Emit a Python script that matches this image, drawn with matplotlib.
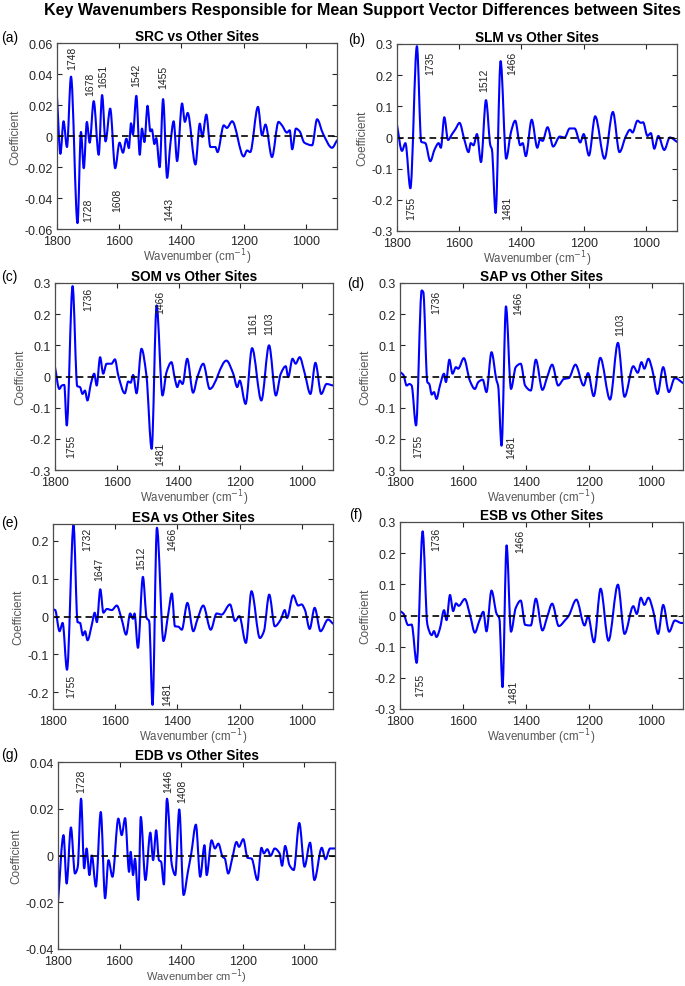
import numpy as np
import matplotlib.pyplot as plt
from matplotlib.path import Path
from matplotlib.patches import PathPatch

plt.rcParams['font.family'] = ['Liberation Sans', 'DejaVu Sans']

# ---- data (wavenumber, SVM coefficient) ----
wn_src = [1800, 1789, 1779, 1768, 1755, 1734, 1723, 1714, 1704, 1695, 1682, 1666, 1655, 1644, 1629,
          1613, 1599, 1588, 1577, 1569, 1562, 1556, 1545, 1534, 1527, 1519, 1509, 1500, 1495, 1487,
          1481, 1470, 1459, 1446, 1436, 1425, 1414, 1398, 1389, 1380, 1355, 1341, 1333, 1320, 1307,
          1291, 1284, 1264, 1254, 1237, 1200, 1189, 1179, 1154, 1141, 1130, 1109, 1088, 1077, 1061,
          1052, 1044, 1032, 1020, 1005, 980, 964, 945, 916, 900]
coef_src = [0.0253, -0.0115, 0.0095, -0.0071, 0.0383, -0.0562, 0.0026, -0.0208, 0.0091, -0.0043,
            0.0225, -0.0121, 0.0264, -0.0035, 0.0177, -0.0208, -0.0043, -0.0108, -0.0017, -0.0078,
            0.0082, 0.0009, 0.0259, -0.0121, 0.0048, -0.0039, 0.0195, 0.003, 0.0043, -0.0052,
            -0.0013, -0.0201, 0.0238, -0.027, -0.006, 0.0095, -0.0162, 0.021, 0.0091, 0.0149,
            -0.0184, 0.008, -0.0006, 0.0138, -0.0071, -0.0071, -0.0104, 0.0069, 0.0052, 0.0095,
            -0.0132, -0.0093, -0.0104, 0.0188, 0.0004, 0.0074, -0.0136, 0.0091, 0.0069, 0.0022,
            0.0037, -0.0086, 0.0048, 0.003, -0.0043, -0.006, 0.0108, 0.0015, -0.0076, -0.0028]

wn_slm = [1800, 1784, 1773, 1757, 1736, 1722, 1709, 1693, 1679, 1666, 1659, 1648, 1636, 1623, 1612,
          1599, 1584, 1570, 1563, 1554, 1543, 1530, 1514, 1500, 1495, 1483, 1467, 1449, 1434, 1420,
          1404, 1396, 1386, 1367, 1349, 1340, 1332, 1316, 1298, 1277, 1261, 1245, 1229, 1211, 1200,
          1183, 1163, 1133, 1106, 1085, 1064, 1051, 1043, 1027, 1016, 1009, 995, 984, 973, 960,
          941, 923, 900]
coef_slm = [0.040, -0.043, -0.018, -0.163, 0.293, -0.014, -0.018, -0.076, -0.038, -0.018,
            -0.033, 0.065, -0.008, 0.011, 0.027, 0.047, -0.005, -0.047, -0.018, -0.025,
            0.011, -0.079, 0.120, -0.025, -0.038, -0.242, 0.245, -0.068, 0.016, 0.054,
            -0.025, -0.018, -0.060, 0.057, -0.033, -0.005, -0.011, 0.033, -0.029, 0.003,
            0.0, 0.029, 0.029, -0.016, 0.011, -0.058, 0.068, -0.068, 0.082, -0.047,
            0.005, 0.025, 0.016, 0.054, 0.047, 0.049, 0.005, 0.014, -0.036, 0.005,
            -0.040, 0.0, -0.014]

wn_som = [1800, 1786, 1778, 1770, 1762, 1743, 1728, 1719, 1711, 1703, 1695, 1684, 1673, 1665, 1654,
          1644, 1633, 1617, 1606, 1595, 1574, 1563, 1555, 1547, 1536, 1520, 1504, 1487, 1471, 1452,
          1439, 1423, 1412, 1404, 1396, 1387, 1372, 1353, 1339, 1320, 1299, 1245, 1223, 1210, 1202,
          1183, 1162, 1132, 1107, 1085, 1069, 1053, 1045, 1031, 1021, 1008, 992, 973, 957, 938,
          921, 900]
coef_som = [0.030, -0.040, -0.029, -0.027, -0.157, 0.290, -0.031, -0.034, -0.056, -0.045,
            -0.077, -0.024, 0.009, -0.029, 0.062, 0.009, 0.041, 0.041, 0.055, 0.003,
            -0.054, -0.016, -0.020, 0.005, -0.054, 0.089, 0.003, -0.232, 0.228, -0.061,
            0.014, 0.046, -0.007, -0.034, -0.013, -0.024, 0.057, -0.052, -0.002, 0.041,
            -0.040, 0.051, 0.009, -0.034, -0.013, -0.088, 0.091, -0.077, 0.100, -0.061,
            0.009, 0.033, -0.002, 0.057, 0.041, 0.062, 0.012, -0.056, 0.044, -0.056,
            -0.024, -0.029]

wn_sap = [1800, 1789, 1779, 1770, 1763, 1749, 1731, 1726, 1713, 1707, 1699, 1692, 1684, 1673, 1660,
          1654, 1643, 1633, 1622, 1615, 1597, 1578, 1562, 1551, 1537, 1525, 1509, 1493, 1488, 1477,
          1463, 1447, 1432, 1416, 1402, 1384, 1368, 1347, 1332, 1316, 1297, 1279, 1263, 1242, 1216,
          1202, 1184, 1163, 1132, 1107, 1086, 1058, 1044, 1032, 1023, 1010, 998, 981, 963, 945,
          926, 900]
coef_sap = [0.014, 0.005, -0.029, -0.024, -0.029, -0.157, 0.276, 0.271, -0.018, -0.024,
            -0.058, -0.050, -0.072, -0.029, 0.009, -0.018, 0.054, 0.009, 0.030, 0.025,
            0.059, -0.013, -0.040, -0.018, -0.010, -0.050, 0.078, -0.013, -0.029, -0.222,
            0.225, -0.040, 0.030, 0.041, -0.029, -0.045, 0.054, -0.043, -0.002, 0.038,
            -0.029, -0.008, -0.005, 0.038, -0.029, 0.011, -0.063, 0.060, -0.074, 0.108,
            -0.065, 0.033, 0.012, 0.046, 0.025, 0.057, 0.023, -0.056, 0.030, -0.050,
            -0.005, -0.021]

wn_esa = [1800, 1793, 1779, 1769, 1755, 1734, 1721, 1713, 1704, 1697, 1689, 1675, 1666, 1659, 1648,
          1638, 1627, 1611, 1595, 1579, 1565, 1552, 1543, 1538, 1527, 1511, 1499, 1491, 1480, 1466,
          1445, 1429, 1418, 1408, 1397, 1386, 1368, 1349, 1336, 1317, 1293, 1274, 1258, 1231, 1215,
          1201, 1180, 1162, 1135, 1122, 1105, 1087, 1068, 1055, 1048, 1028, 1012, 1001, 990, 975,
          959, 940, 916, 900]
coef_esa = [0.019, 0.017, -0.039, -0.017, -0.141, 0.242, -0.015, -0.017, -0.050, -0.039,
            -0.063, -0.021, 0.010, -0.015, 0.072, 0.010, 0.020, 0.017, 0.029, -0.008,
            -0.048, 0.008, -0.006, 0.008, -0.083, 0.105, -0.004, -0.012, -0.234, 0.235,
            -0.065, 0.010, 0.061, -0.026, -0.027, -0.035, 0.036, -0.039, -0.008, 0.029,
            -0.035, 0.008, 0.005, 0.032, -0.012, 0.001, -0.070, 0.067, -0.057, -0.039,
            0.058, -0.026, -0.008, 0.017, -0.004, 0.056, 0.029, 0.032, 0.017, -0.033,
            0.023, -0.039, -0.008, -0.019]

wn_esb = [1800, 1789, 1774, 1763, 1747, 1728, 1713, 1699, 1692, 1684, 1673, 1660, 1652, 1641, 1631,
          1622, 1613, 1594, 1576, 1562, 1548, 1535, 1525, 1509, 1493, 1484, 1474, 1461, 1447, 1432,
          1416, 1402, 1384, 1368, 1347, 1332, 1316, 1295, 1274, 1263, 1239, 1213, 1202, 1183, 1162,
          1137, 1107, 1086, 1058, 1047, 1034, 1023, 1010, 995, 979, 963, 944, 926, 905, 900]
coef_esb = [0.014, 0.006, -0.031, -0.029, -0.152, 0.270, -0.029, -0.063, -0.050, -0.069,
            -0.042, 0.017, -0.015, 0.066, 0.014, 0.039, 0.031, 0.053, -0.004, -0.055,
            -0.018, 0.012, -0.051, 0.080, 0.006, -0.010, -0.230, 0.225, -0.052, 0.024,
            0.048, -0.030, -0.032, 0.054, -0.048, -0.005, 0.038, -0.034, -0.014, 0.0,
            0.051, -0.032, -0.002, -0.086, 0.086, -0.081, 0.099, -0.059, 0.030, 0.005,
            0.057, 0.034, 0.057, 0.016, -0.059, 0.034, -0.052, -0.016, -0.024, -0.024]

wn_edb = [1800, 1782, 1772, 1758, 1745, 1736, 1725, 1715, 1707, 1698, 1690, 1677, 1661, 1647, 1636,
          1623, 1604, 1593, 1582, 1569, 1564, 1556, 1550, 1539, 1531, 1516, 1500, 1491, 1481, 1472,
          1465, 1456, 1446, 1430, 1419, 1406, 1392, 1378, 1367, 1352, 1338, 1324, 1317, 1301, 1290,
          1279, 1265, 1258, 1247, 1234, 1220, 1212, 1198, 1184, 1171, 1152, 1139, 1131, 1120, 1109,
          1096, 1080, 1072, 1062, 1048, 1034, 1016, 999, 981, 967, 943, 931, 916, 900]
coef_edb = [-0.020, 0.0087, -0.012, 0.012, -0.0077, -0.005, 0.0243, -0.0055, 0.003, -0.0084,
            0.0, -0.0133, 0.0186, -0.0183, -0.002, -0.0091, 0.0158, 0.0087, 0.016, -0.007,
            0.0016, -0.0084, -0.0013, -0.019, 0.0165, -0.0105, 0.0098, -0.002, 0.0108, -0.002,
            -0.0027, -0.0124, 0.0243, -0.0041, -0.0084, 0.0197, -0.0169, -0.007, 0.0009, 0.0132,
            -0.0091, 0.0044, -0.0084, 0.0065, 0.003, 0.0051, -0.0006, -0.0013, -0.0077, -0.0013,
            0.0058, 0.0037, 0.007, -0.001, -0.0013, -0.0105, 0.0033, 0.0009, 0.0027, -0.0001,
            0.003, 0.0009, -0.0044, 0.0041, -0.0041, -0.0062, 0.0139, -0.0048, 0.0055, -0.0105,
            0.0033, -0.0016, 0.003, 0.003]

# peak labels: (text, wavenumber, coefficient) for where the label sits
labels_src = [('1748', 1752, 0.0506), ('1678', 1693, 0.034), ('1651', 1650, 0.039),
              ('1542', 1545, 0.040), ('1455', 1459, 0.0385), ('1728', 1701, -0.0475),
              ('1608', 1605, -0.0406), ('1443', 1438, -0.0465)]
labels_slm = [('1735', 1693, 0.242), ('1512', 1519, 0.186), ('1466', 1430, 0.242),
              ('1755', 1754, -0.225), ('1481', 1446, -0.225)]
labels_som = [('1736', 1692, 0.250), ('1466', 1460, 0.241), ('1161', 1159, 0.172),
              ('1103', 1105, 0.172), ('1755', 1746, -0.220), ('1481', 1460, -0.245)]
labels_sap = [('1736', 1684, 0.241), ('1466', 1424, 0.237), ('1103', 1101, 0.170),
              ('1755', 1742, -0.220), ('1481', 1445, -0.224)]
labels_esa = [('1732', 1689, 0.206), ('1647', 1650, 0.127), ('1512', 1515, 0.158),
              ('1466', 1418, 0.206), ('1755', 1741, -0.183), ('1481', 1434, -0.204)]
labels_esb = [('1736', 1684, 0.246), ('1466', 1419, 0.240), ('1755', 1736, -0.222),
              ('1481', 1440, -0.244)]
labels_edb = [('1728', 1724, 0.032), ('1446', 1442, 0.032), ('1408', 1396, 0.028)]

W, H = 685, 987
fig = plt.figure(figsize=(W / 100, H / 100), dpi=100)


def px_rect(l, t, r, b):
    return [l / W, 1 - b / H, (r - l) / W, (b - t) / H]


def smooth_path(x, y):
    # monotone cubic (pchip-style) bezier through the read points, no overshoot
    x = np.asarray(x, float)
    y = np.asarray(y, float)
    d = np.diff(y) / np.diff(x)
    m = np.zeros(len(x))
    for i in range(1, len(x) - 1):
        if d[i - 1] * d[i] > 0:
            m[i] = 2.0 / (1.0 / d[i - 1] + 1.0 / d[i])
    m[0], m[-1] = d[0], d[-1]
    verts = [(x[0], y[0])]
    codes = [Path.MOVETO]
    for i in range(len(x) - 1):
        h = x[i + 1] - x[i]
        verts += [(x[i] + h / 3, y[i] + m[i] * h / 3),
                  (x[i + 1] - h / 3, y[i + 1] - m[i + 1] * h / 3),
                  (x[i + 1], y[i + 1])]
        codes += [Path.CURVE4] * 3
    return Path(verts, codes)


def panel(rect, wn, coef, title, letter, letter_xy, ylim, yticks, ytick_labels, labels,
          xlabel='Wavenumber (cm$^{-1}$)'):
    ax = fig.add_axes(rect)
    ax.add_patch(PathPatch(smooth_path(wn, coef), fill=False, edgecolor='#0000ff', lw=1.5,
                           joinstyle='round', capstyle='round'))
    ax.axhline(0, color='black', ls=(0, (4, 2.5)), lw=1.2)
    ax.set_xlim(1800, 900)
    ax.set_ylim(*ylim)
    ax.set_xticks([1800, 1600, 1400, 1200, 1000])
    ax.set_yticks(yticks)
    ax.set_yticklabels(ytick_labels)
    ax.tick_params(direction='in', top=True, right=True, length=3.5, width=0.8,
                   labelsize=9, colors='#262626', pad=3)
    ax.tick_params(axis='x', pad=4)
    for s in ax.spines.values():
        s.set_color('#4d4d4d')
        s.set_linewidth(0.9)
    ax.set_title(title, fontsize=9.8, fontweight='bold', pad=2)
    ax.set_xlabel(xlabel, fontsize=8.3, color='#555555', labelpad=0)
    ax.set_ylabel('Coefficient', fontsize=8.5, color='#555555', labelpad=2)
    for txt, x, y in labels:
        ax.text(x, y, txt, rotation=90, ha='center', va='center', fontsize=7.5, color='#222222')
    fig.text(letter_xy[0] / W, 1 - letter_xy[1] / H, letter, fontsize=10, ha='left', va='center')
    return ax


t3 = [-0.3, -0.2, -0.1, 0, 0.1, 0.2, 0.3]
t3l = ['-0.3', '-0.2', '-0.1', '0', '0.1', '0.2', '0.3']

panel(px_rect(57, 44, 337, 230), wn_src, coef_src, 'SRC vs Other Sites', '(a)', (1, 38),
      (-0.06, 0.06), [-0.06, -0.04, -0.02, 0, 0.02, 0.04, 0.06],
      ['-0.06', '-0.04', '-0.02', '0', '0.02', '0.04', '0.06'], labels_src)
panel(px_rect(397, 45, 677, 232), wn_slm, coef_slm, 'SLM vs Other Sites', '(b)', (348, 40),
      (-0.3, 0.3), t3, t3l, labels_slm)
panel(px_rect(55, 284, 333, 471), wn_som, coef_som, 'SOM vs Other Sites', '(c)', (1, 277),
      (-0.3, 0.3), t3, t3l, labels_som)
panel(px_rect(400, 284, 683, 471), wn_sap, coef_sap, 'SAP vs Other Sites', '(d)', (347, 284),
      (-0.3, 0.3), t3, t3l, labels_sap)
panel(px_rect(53, 525, 333, 710), wn_esa, coef_esa, 'ESA vs Other Sites', '(e)', (1, 523),
      (-0.245, 0.245), [-0.2, -0.1, 0, 0.1, 0.2], ['-0.2', '-0.1', '0', '0.1', '0.2'], labels_esa)
panel(px_rect(400, 523, 683, 710), wn_esb, coef_esb, 'ESB vs Other Sites', '(f)', (349, 515),
      (-0.3, 0.3), t3, t3l, labels_esb)
ax_g = panel(px_rect(58, 763, 335, 950), wn_edb, coef_edb, 'EDB vs Other Sites', '(g)', (1, 755),
             (-0.04, 0.04), [-0.04, -0.02, 0, 0.02, 0.04], ['-0.04', '-0.02', '0', '0.02', '0.04'],
             labels_edb, xlabel='Wavenumber cm$^{-1}$)')
ax_g.xaxis.label.set_fontsize(8)

fig.text(0.529, 1 - 10 / H,
         'Key Wavenumbers Responsible for Mean Support Vector Differences between Sites',
         ha='center', va='center', fontsize=11.5, fontweight='bold')

fig.savefig('out.png', dpi=100)
